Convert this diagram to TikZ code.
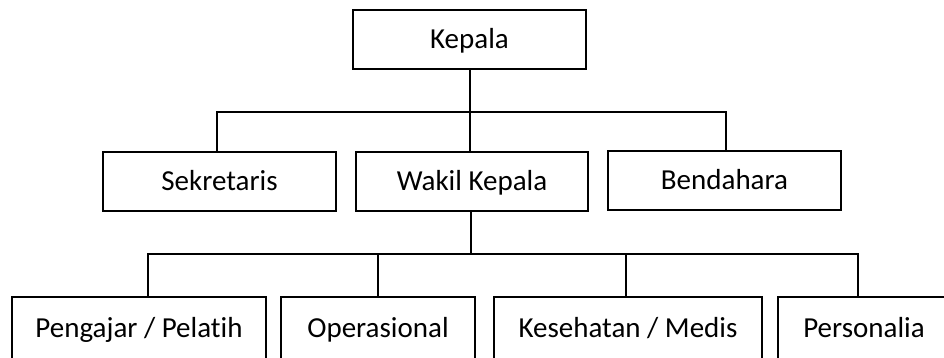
\documentclass[tikz,border=0pt]{standalone}
\usepackage{fontspec}
\setmainfont[Ligatures=NoCommon]{Carlito}
\begin{document}
\begin{tikzpicture}[x=1pt,y=-1pt,
  box/.style={draw=black,line width=2.3pt,rectangle,inner sep=0pt,
    minimum height=59pt,text height=18.5pt,text depth=0pt,
    font=\fontsize{29}{32}\selectfont},
  conn/.style={draw=black,line width=1.4pt}]
\useasboundingbox (0,0) rectangle (944,358);
\clip (0,0) rectangle (944,358);
% top
\node[box,minimum width=233pt] (kepala) at (469.5,39.5) {Kepala};
% middle
\node[box,minimum width=233pt] (sek) at (219.5,181.5) {Sekretaris};
\node[box,minimum width=232pt] (wakil) at (472,181.5) {Wakil Kepala};
\node[box,minimum width=233pt] (bend) at (724.5,180.5) {Bendahara};
% bottom
\node[box,minimum width=254pt,minimum height=63pt] (peng) at (139,328.5) {Pengajar / Pelatih};
\node[box,minimum width=194pt,minimum height=63pt] (oper) at (378,328.5) {Operasional};
\node[box,minimum width=268pt,minimum height=63pt] (kes) at (628,328.5) {Kesehatan / Medis};
\node[box,minimum width=172pt,minimum height=63pt] (pers) at (864,328.5) {Personalia};
% bus coordinates
\coordinate (b1w) at (217,112);
\coordinate (b1c) at (470,112);
\coordinate (b1e) at (726,112);
\coordinate (b2w) at (148,254);
\coordinate (b2c) at (471,254);
\coordinate (b2o) at (378,254);
\coordinate (b2k) at (626,254);
\coordinate (b2e) at (858,254);
% connectors level 1
\draw[conn] (kepala.south -| b1c) -- (wakil.north -| b1c);
\draw[conn] (sek.north -| b1w) -- (b1w) -- (b1e) -- (bend.north -| b1e);
% connectors level 2
\draw[conn] (wakil.south -| b2c) -- (b2c);
\draw[conn] (peng.north -| b2w) -- (b2w) -- (b2e) -- (pers.north -| b2e);
\draw[conn] (b2o) -- (oper.north -| b2o);
\draw[conn] (b2k) -- (kes.north -| b2k);
\end{tikzpicture}
\end{document}
